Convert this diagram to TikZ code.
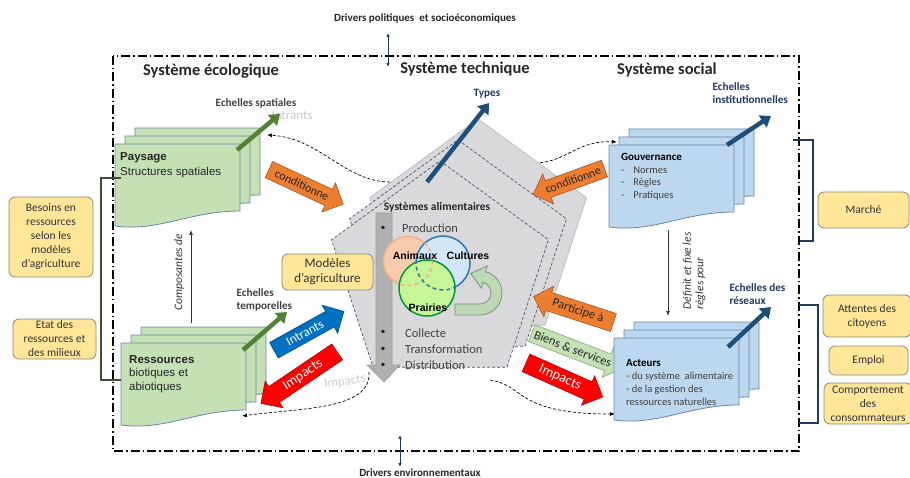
\documentclass[tikz,border=0pt]{standalone}
\usepackage{fontspec}
\setmainfont{Carlito}
\newfontfamily\arialfont{Liberation Sans}
\usetikzlibrary{shapes.arrows, arrows.meta, calc, positioning}

\definecolor{sheetgreen}{RGB}{197,224,180}
\definecolor{sheetblue}{RGB}{189,215,238}
\definecolor{sheetedge}{RGB}{105,135,165}
\definecolor{boxyellow}{RGB}{255,230,153}
\definecolor{boxedge}{RGB}{140,135,115}
\definecolor{scalegreen}{RGB}{84,130,53}
\definecolor{scalenavy}{RGB}{31,78,121}
\definecolor{labelnavy}{RGB}{31,56,100}
\definecolor{arrorange}{RGB}{237,125,49}
\definecolor{arrblue}{RGB}{0,112,192}
\definecolor{arrred}{RGB}{255,0,0}
\definecolor{arrlgreen}{RGB}{197,224,180}
\definecolor{pentfill}{RGB}{217,217,219}
\definecolor{pentedge}{RGB}{68,84,106}
\definecolor{darktext}{RGB}{64,64,64}
\definecolor{venorange}{RGB}{244,177,131}
\definecolor{venorangefill}{RGB}{248,203,173}
\definecolor{venblue}{RGB}{46,117,182}
\definecolor{venbluefill}{RGB}{210,230,248}
\definecolor{vengreen}{RGB}{0,150,60}
\definecolor{vengreenfill}{RGB}{200,245,150}
\definecolor{loopfill}{RGB}{190,215,180}
\definecolor{loopedge}{RGB}{120,150,125}
\definecolor{bracketgreen}{RGB}{60,80,45}
\definecolor{bracketnavy}{RGB}{31,56,100}

\tikzset{
  frame/.style={line width=1.3pt, dash pattern=on 9pt off 3pt on 1.5pt off 3pt},
  sheet/.style={draw=sheetedge, line width=0.8pt},
  heading/.style={font=\fontsize{16.5}{18}\selectfont\bfseries, text=black!85},
  driver/.style={font=\fontsize{11}{12}\selectfont\bfseries, text=black!85},
  driverarrow/.style={draw=labelnavy, line width=0.8pt, {Latex[length=4pt,width=3.5pt]}-{Latex[length=4pt,width=3.5pt]}},
  ybox/.style={draw=boxedge, fill=boxyellow, rounded corners=6pt, align=center, line width=0.8pt,
    font=\fontsize{11.5}{14}\selectfont, text=black!80, inner sep=1pt},
  scalearrow/.style={line width=4.5pt, -{Triangle[length=10pt,width=14pt]}},
  scalelabel/.style={font=\fontsize{11.2}{13}\selectfont\bfseries, align=left, anchor=west},
  blockarr/.style={single arrow, single arrow head extend=6pt, inner sep=3pt, line width=0.6pt,
    minimum width=32pt, font=\fontsize{12}{12}\selectfont},
  link/.style={line width=0.7pt, dash pattern=on 3pt off 2pt, -{Latex[length=5pt,width=4pt]}},
  thinarrow/.style={line width=0.7pt, draw=black!80, -{Latex[length=5pt,width=4pt]}},
  bracket/.style={line width=1.2pt},
  sheettext/.style={anchor=north west, align=left, inner sep=0pt},
}

% document shape: top-left x, y, width, right height, fill
\newcommand{\docsheet}[5]{%
  \pgfmathsetmacro{\sheetr}{#1+#3}%
  \pgfmathsetmacro{\sheetb}{#2+#4}%
  \filldraw[sheet, fill=#5] (#1,#2) -- (\sheetr,#2) -- (\sheetr,\sheetb)
    .. controls +(-0.4*#3,0) and +(0.35*#3,6) .. (#1,\sheetb+15) -- cycle;
}
% three sheets, front sheet at x, y
\newcommand{\sheetstack}[3]{%
  \docsheet{#1+20}{#2-16}{125}{67}{#3}
  \docsheet{#1+10}{#2-8}{125}{67}{#3}
  \docsheet{#1}{#2}{125}{67}{#3}
}
% pentagon: centre x, y, style
\newcommand{\pent}[3]{%
  \filldraw[#3] ([shift={(#1,#2)}]-90:114) -- ([shift={(#1,#2)}]-18:114)
    -- ([shift={(#1,#2)}]54:114) -- ([shift={(#1,#2)}]126:114)
    -- ([shift={(#1,#2)}]198:114) -- cycle;
}

\begin{document}
\begin{tikzpicture}[x=1pt,y=-1pt]
\useasboundingbox (0,0) rectangle (910,478);

% frame and drivers
\draw[frame] (113,56) rectangle (799,451);
\node[driver] (drvtop) at (425,19) {Drivers politiques\ \ et socioéconomiques};
\node[driver] (drvbot) at (420,473) {Drivers environnementaux};
\coordinate (dt1) at (388,33);
\coordinate (dt2) at (388,67);
\draw[driverarrow] (dt1) -- (dt2);
\coordinate (db1) at (400,435);
\coordinate (db2) at (400,467);
\draw[driverarrow] (db1) -- (db2);

\node[heading] (hEco) at (211,71) {Système écologique};
\node[heading] (hTech) at (465,69) {Système technique};
\node[heading] (hSoc) at (667,70) {Système social};

% dashed links
\coordinate (pentTL) at (390,182);
\coordinate (payR) at (267,135);
\coordinate (pentTR) at (530,163);
\coordinate (gouvL) at (617,142);
\coordinate (pentBL) at (369,372);
\coordinate (resR) at (242,416);
\coordinate (pentBR) at (490,380);
\coordinate (actL) at (615,414);
\draw[link] (pentTL) .. controls (345,182) and (320,138) .. (payR);
\draw[link] (pentTR) .. controls (565,165) and (575,140) .. (gouvL);
\draw[link] (pentBL) .. controls (372,410) and (300,408) .. (resR);
\draw[link] (pentBR) .. controls (525,385) and (515,414) .. (actL);

% technical system
\pent{478}{233}{fill=pentfill, draw=gray!50, line width=0.8pt}
\pent{458}{254}{fill=pentfill, draw=pentedge, line width=0.7pt, dash pattern=on 3pt off 2pt}
\pent{440}{275}{fill=pentfill, draw=pentedge, line width=0.7pt, dash pattern=on 3pt off 2pt}

\coordinate (typesA) at (427,182);
\coordinate (typesB) at (489,103);
\draw[scalearrow, scalenavy] (typesA) -- (typesB);
\node[scalelabel, labelnavy, anchor=center] (types) at (487,94) {Types};

\node[font=\fontsize{11.5}{13}\selectfont\bfseries, text=black!85] (sysal) at (437,207) {Systèmes alimentaires};
\filldraw[fill=gray!62, draw=gray!75, line width=0.6pt] (376,213) -- (392,213) -- (392,365) -- (400,365)
  -- (384,382) -- (367,365) -- (376,365) -- cycle;
\foreach \yy/\nm in {228/b1, 332/b2, 349/b3, 365/b4}
  \node[font=\fontsize{9}{9}\selectfont, inner sep=0pt] (\nm) at (383,\yy) {\textbullet};
\node[anchor=west, font=\fontsize{12.5}{14}\selectfont, text=darktext, inner sep=0pt] (prod) at (402,228) {Production};
\node[anchor=west, font=\fontsize{12.5}{14}\selectfont, text=darktext, inner sep=0pt] (coll) at (405,333) {Collecte};
\node[anchor=west, font=\fontsize{12.5}{14}\selectfont, text=darktext, inner sep=0pt] (trans) at (405,349) {Transformation};
\node[anchor=west, font=\fontsize{12.5}{14}\selectfont, text=darktext, inner sep=0pt] (distr) at (405,365) {Distribution};

% venn of production
\filldraw[fill=venorangefill, draw=venorange, line width=1.5pt] (408,261) circle (24.5);
\filldraw[fill=venbluefill, draw=venblue, line width=1.5pt] (443,263) circle (27);
\begin{scope}
  \clip (443,263) circle (27);
  \draw[venorange, line width=1.5pt, dash pattern=on 4pt off 3pt] (408,261) circle (24.5);
\end{scope}
\filldraw[fill=vengreenfill, draw=vengreen, line width=1.5pt] (427,288) circle (28);
\begin{scope}
  \clip (427,288) circle (28);
  \draw[venorange, line width=1.5pt, dash pattern=on 4pt off 3pt] (408,261) circle (24.5);
  \draw[venblue, line width=1.5pt, dash pattern=on 4pt off 3pt] (443,263) circle (27);
\end{scope}
\node[font=\arialfont\fontsize{10.5}{12}\selectfont\bfseries] (anim) at (415,256) {Animaux};
\node[font=\arialfont\fontsize{10.5}{12}\selectfont\bfseries] (cult) at (468,256) {Cultures};
\node[font=\arialfont\fontsize{10.5}{12}\selectfont\bfseries] (prair) at (428,308) {Prairies};

\coordinate (loopc) at (480,293);
\filldraw[fill=loopfill, draw=loopedge, line width=0.8pt]
  (455,315) -- ($(loopc)+(90:22)$) arc[start angle=90, end angle=-75, radius=22]
  -- ($(loopc)+(-75:28)$) -- ($(loopc)+(-75:16.5)+(195:14)$) -- ($(loopc)+(-75:5)$)
  -- ($(loopc)+(-75:11)$) arc[start angle=-75, end angle=90, radius=11] -- (455,304) -- cycle;

% ecological system
\sheetstack{115}{144}{sheetgreen}
\node[sheettext, font=\arialfont\fontsize{11.5}{15}\selectfont, text=black!85] (pays) at (120,152)
  {\textbf{Paysage}\\Structures spatiales};
\node[font=\fontsize{13}{14}\selectfont, text=gray!45] (intrgray) at (292,115) {Intrants};
\coordinate (payA) at (237,150);
\coordinate (payB) at (280,114);
\draw[scalearrow, scalegreen] (payA) -- (payB);
\node[scalelabel, text=darktext, anchor=center] (echsp) at (256,103) {Echelles spatiales};

\sheetstack{121}{343}{sheetgreen}
\node[sheettext, font=\arialfont\fontsize{11.5}{13.5}\selectfont, text=black!85] (ress) at (129,355)
  {\textbf{Ressources}\\biotiques et\\abiotiques};
\coordinate (resA) at (243,350);
\coordinate (resB) at (287,312);
\draw[scalearrow, scalegreen] (resA) -- (resB);
\node[scalelabel, text=darktext] (echtp) at (233,300) {Echelles\\temporelles};

\coordinate (compA) at (191,323);
\coordinate (compB) at (191,230);
\draw[thinarrow] (compA) -- (compB);
\node[rotate=90, font=\fontsize{11.5}{13}\selectfont\itshape, text=black!80] (compo) at (179,272) {Composantes de};

\coordinate (brL1) at (121,178);
\coordinate (brL2) at (121,380);
\draw[bracket, bracketgreen] (brL1) -- (101,178) -- (101,380) -- (brL2);

\node[ybox, minimum width=84pt, minimum height=80pt] (besoins) at (51,237)
  {Besoins en\\ressources\\selon les\\modèles\\d’agriculture};
\node[ybox, minimum width=83pt, minimum height=40pt] (etat) at (54.5,339)
  {Etat des\\ressources et\\des milieux};
\node[ybox, minimum width=91pt, minimum height=36pt, font=\fontsize{13}{15}\selectfont] (modeles) at (327.5,272)
  {Modèles\\d’agriculture};

% block arrows
\node[blockarr, fill=arrorange, draw=arrorange!70!black, minimum height=82pt, rotate=-25, text=black!85] (condL) at (302,185) {conditionne};
\node[blockarr, fill=arrblue, draw=arrblue!70!black, minimum height=80pt, rotate=29, text=white, font=\fontsize{13}{13}\selectfont] (intr) at (305,333) {Intrants};
\node[rotate=8, font=\fontsize{13}{13}\selectfont, text=gray!40] (impgray) at (345,382) {Impacts};
\node[blockarr, fill=arrred, draw=arrred!70!black, minimum height=92pt, rotate=34, shape border rotate=180, text=white, font=\fontsize{14}{14}\selectfont] (impL) at (303,375) {Impacts};
\node[blockarr, fill=arrorange, draw=arrorange!70!black, minimum height=76pt, rotate=20, shape border rotate=180, text=black!85] (condR) at (573,180) {conditionne};
\node[blockarr, fill=arrorange, draw=arrorange!70!black, minimum height=84pt, rotate=-18, shape border rotate=180, text=black!85, font=\fontsize{12.5}{12.5}\selectfont] (partic) at (578,311) {Participe à};
\node[blockarr, fill=arrlgreen, draw=scalegreen!70, minimum height=90pt, rotate=-21, text=black!85, font=\fontsize{12.5}{12.5}\selectfont] (biens) at (573,349) {Biens \& services};
\node[blockarr, fill=arrred, draw=arrred!70!black, minimum height=84pt, rotate=-24, text=white, font=\fontsize{14}{14}\selectfont] (impR) at (560,378) {Impacts};

% social system
\sheetstack{609}{145}{sheetblue}
\node[sheettext, font=\fontsize{10.5}{12.7}\selectfont, text=darktext] (gouv) at (621,153)
  {\textcolor{black}{\fontsize{11}{12.7}\selectfont\bfseries Gouvernance}\\-\hspace{9pt}Normes\\-\hspace{9pt}Règles\\-\hspace{9pt}Pratiques};
\coordinate (gouvA) at (727,145);
\coordinate (gouvB) at (771,116);
\draw[scalearrow, scalenavy] (gouvA) -- (gouvB);
\node[scalelabel, labelnavy] (echinst) at (709,93) {Echelles\\institutionnelles};

\sheetstack{614}{338}{sheetblue}
\node[sheettext, font=\fontsize{10.5}{13}\selectfont, text=darktext] (act) at (626,359)
  {\textcolor{black}{\fontsize{11}{13}\selectfont\bfseries Acteurs}\\- du système\ \ alimentaire\\- de la gestion des\\ressources naturelles};
\coordinate (actA) at (728,347);
\coordinate (actB) at (771,307);
\draw[scalearrow, scalenavy] (actA) -- (actB);
\node[scalelabel, labelnavy] (echres) at (726,294) {Echelles des\\réseaux};

\coordinate (defA) at (668,230);
\coordinate (defB) at (668,316);
\draw[thinarrow] (defA) -- (defB);
\node[rotate=90, anchor=west, align=left, font=\fontsize{11.5}{12.5}\selectfont\itshape, text=black!80] (defin) at (694,313)
  {Définit et fixe les\\règles pour};

\coordinate (brR1) at (793,140);
\coordinate (brR2) at (800,241);
\draw[bracket, bracketnavy] (brR1) -- (813,140) -- (813,241) -- (brR2);
\coordinate (brR3) at (799,305);
\coordinate (brR4) at (799,423);
\draw[bracket, bracketnavy] (brR3) -- (818,305) -- (818,423) -- (brR4);

\node[ybox, minimum width=91pt, minimum height=36pt] (marche) at (863.5,210) {Marché};
\node[ybox, minimum width=88pt, minimum height=42pt] (attentes) at (867,316) {Attentes des\\citoyens};
\node[ybox, minimum width=79pt, minimum height=29pt] (emploi) at (868.5,360.5) {Emploi};
\node[ybox, minimum width=88pt, minimum height=41pt] (comport) at (868,403.5) {Comportement\\des\\consommateurs};
\end{tikzpicture}
\end{document}
